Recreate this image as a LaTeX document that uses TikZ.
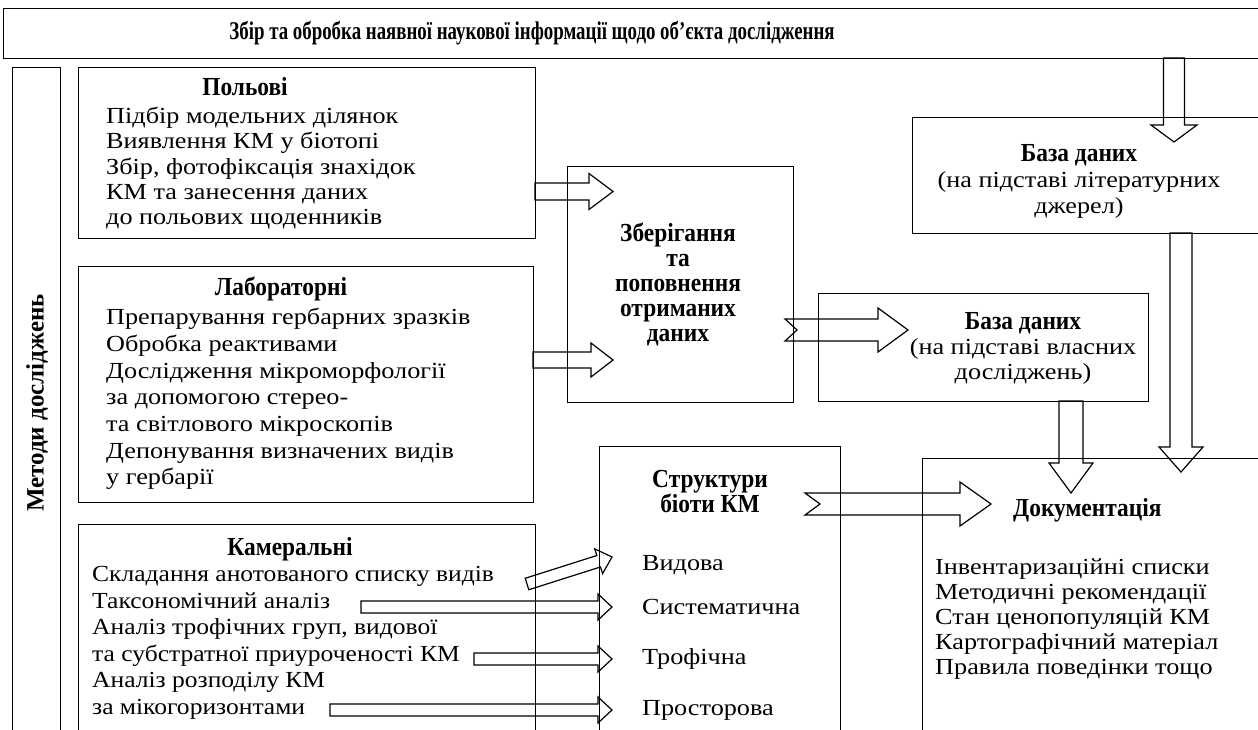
\documentclass[tikz,border=0pt]{standalone}
\usepackage{fontspec}
\setmainfont{Liberation Serif}[FakeStretch=1.14]
\newfontfamily\kamfont{Liberation Serif}[FakeStretch=1.11]
\newfontfamily\hdfont{Liberation Serif}[FakeStretch=0.9]
\newfontfamily\bnfont{Liberation Serif}[FakeStretch=0.74]
\newfontfamily\vtfont{Liberation Serif}
\usetikzlibrary{calc}
\newcommand\blockarr[6]{%
  \coordinate (hb) at ($(#2)!#5!(#1)$);
  \draw[#6] ($(#1)!#3!90:(#2)$) -- ($(hb)!#3!-90:(#1)$) -- ($(hb)!#4!-90:(#1)$) -- (#2)
    -- ($(hb)!#4!90:(#1)$) -- ($(hb)!#3!90:(#1)$) -- ($(#1)!#3!-90:(#2)$) -- cycle;}
\newcommand\tailarr[7]{%
  \coordinate (hb) at ($(#2)!#5!(#1)$);
  \draw[#6] ($(#1)!#3!90:(#2)$) -- ($(hb)!#3!-90:(#1)$) -- ($(hb)!#4!-90:(#1)$) -- (#2)
    -- ($(hb)!#4!90:(#1)$) -- ($(hb)!#3!90:(#1)$) -- ($(#1)!#3!-90:(#2)$) -- ($(#1)!#7!(#2)$) -- cycle;}
\begin{document}
\begin{tikzpicture}[x=1pt,y=-1pt,
  box/.style={draw, line width=1.4pt, inner sep=0pt, anchor=north west},
  body/.style={inner sep=0pt, font=\fontsize{23}{25.3}\selectfont, align=left, anchor=north west},
  head/.style={inner sep=0pt, font=\hdfont\bfseries\fontsize{26}{25}\selectfont, align=center},
  lbl/.style={inner sep=0pt, font=\fontsize{23}{25}\selectfont, anchor=west},
  arr/.style={draw, line width=1.2pt, line join=miter}]
\clip (0,0) rectangle (1258,730);
\fill[white] (0,0) rectangle (1258,730);
% banner
\node[box, minimum width=1280pt, minimum height=50pt] (banner) at (3,8) {};
\node[inner sep=0pt, font=\bnfont\bfseries\fontsize{25.5}{26}\selectfont] (title) at (532,33)
  {Збір та обробка наявної наукової інформації щодо об’єкта дослідження};
% vertical
\node[box, minimum width=48pt, minimum height=700pt] (meth) at (12,67) {};
\node[inner sep=0pt, rotate=90, font=\vtfont\bfseries\fontsize{25}{25}\selectfont] (methtxt) at (37,403) {Методи досліджень};
% left boxes
\node[box, minimum width=457pt, minimum height=171pt] (pol) at (78,67) {};
\node[head] (polh) at (245,87) {Польові};
\node[body] (polt) at (106,107) {Підбір модельних ділянок\\Виявлення КМ у біотопі\\Збір, фотофіксація знахідок\\КМ та занесення даних\\до польових щоденників};
\node[box, minimum width=455pt, minimum height=236pt] (lab) at (78,266) {};
\node[head] (labh) at (281,289) {Лабораторні};
\node[body, font=\fontsize{23}{26.7}\selectfont] (labt) at (106,308) {Препарування гербарних зразків\\Обробка реактивами\\Дослідження мікроморфології\\за допомогою стерео-\\та світлового мікроскопів\\Депонування визначених видів\\у гербарії};
\node[box, minimum width=457pt, minimum height=240pt] (kam) at (78,524) {};
\node[head] (kamh) at (290,549) {Камеральні};
\node[body, font=\kamfont\fontsize{23}{26.6}\selectfont] (kamt) at (92,566) {Складання анотованого списку видів\\Таксономічний аналіз\\Аналіз трофічних груп, видової\\та субстратної приуроченості КМ\\Аналіз розподілу КМ\\за мікогоризонтами};
% middle
\node[box, minimum width=226pt, minimum height=236pt] (zb) at (567,166) {};
\node[head] (zbt) at (678,284) {Зберігання\\та\\поповнення\\отриманих\\даних};
\node[box, minimum width=241pt, minimum height=300pt] (str) at (599,446) {};
\node[head, font=\hdfont\bfseries\fontsize{26}{25}\selectfont] (strh) at (710,492) {Структури\\біоти КМ};
\node[lbl] (l1) at (642,565) {Видова};
\node[lbl] (l2) at (642,607) {Систематична};
\node[lbl] (l3) at (642,659) {Трофічна};
\node[lbl] (l4) at (642,710) {Просторова};
% right
\node[box, minimum width=360pt, minimum height=116pt] (lit) at (912,117) {};
\node[inner sep=0pt, align=center, font=\fontsize{23}{26}\selectfont] (litt) at (1079,181) {{\hdfont\bfseries\fontsize{26}{26}\selectfont База даних}\\(на підставі літературних\\джерел)};
\node[box, minimum width=330pt, minimum height=108pt] (own) at (818,293) {};
\node[inner sep=0pt, align=center, font=\fontsize{23}{25}\selectfont] (ownt) at (1023,348) {{\hdfont\bfseries\fontsize{26}{25}\selectfont База даних}\\(на підставі власних\\досліджень)};
\node[box, minimum width=350pt, minimum height=300pt] (doc) at (922,458) {};
\node[inner sep=0pt, anchor=west, font=\hdfont\bfseries\fontsize{26}{25}\selectfont] (doch) at (1013,510) {Документація};
\node[body, font=\fontsize{23}{25}\selectfont] (doct) at (935,559) {Інвентаризаційні списки\\Методичні рекомендації\\Стан ценопопуляцій КМ\\Картографічний матеріал\\Правила поведінки тощо};
% arrow coordinates
\coordinate (a1s) at (535,191.5); \coordinate (a1e) at (613,191.5);
\coordinate (a2s) at (533,360); \coordinate (a2e) at (613,360);
\coordinate (a3s) at (785,330); \coordinate (a3e) at (908,330);
\coordinate (a4s) at (805,504); \coordinate (a4e) at (991,504);
\coordinate (a5s) at (1174,58); \coordinate (a5e) at (1174,142);
\coordinate (a6s) at (1181,233); \coordinate (a6e) at (1181,472);
\coordinate (a7s) at (1071,401); \coordinate (a7e) at (1071,493);
\coordinate (k1s) at (527,584); \coordinate (k1e) at (612,557);
\coordinate (k2s) at (361,607); \coordinate (k2e) at (612,607);
\coordinate (k3s) at (474,659); \coordinate (k3e) at (612,659);
\coordinate (k4s) at (330,710); \coordinate (k4e) at (612,710);
\blockarr{a1s}{a1e}{8.5pt}{18pt}{24pt}{arr}
\blockarr{a2s}{a2e}{8pt}{17pt}{22pt}{arr}
\tailarr{a3s}{a3e}{11pt}{22pt}{30pt}{arr}{12pt}
\tailarr{a4s}{a4e}{11pt}{22pt}{31pt}{arr}{15pt}
\blockarr{a5s}{a5e}{10.5pt}{23pt}{17pt}{arr}
\blockarr{a6s}{a6e}{11pt}{22pt}{25pt}{arr}
\blockarr{a7s}{a7e}{12pt}{22pt}{30pt}{arr}
\blockarr{k1s}{k1e}{6pt}{13pt}{14pt}{arr}
\blockarr{k2s}{k2e}{6pt}{13pt}{14pt}{arr}
\blockarr{k3s}{k3e}{6pt}{13pt}{14pt}{arr}
\blockarr{k4s}{k4e}{6pt}{13pt}{14pt}{arr}
\end{tikzpicture}
\end{document}
